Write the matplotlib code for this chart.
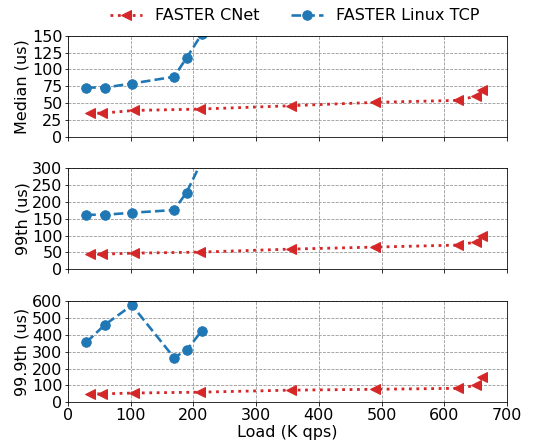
import matplotlib
matplotlib.use('Agg')
import matplotlib.pyplot as plt

# load (K qps)
cnet_load = [35, 55, 105, 210, 355, 490, 622, 650, 660]
tcp_load = [29, 59, 102, 169, 189, 213]

# latencies (us)
cnet_median = [35, 35, 39, 41, 46, 51, 54, 60, 70]
tcp_median = [73, 73, 79, 89, 117, 152]
cnet_p99 = [45, 45, 48, 51, 60, 66, 72, 81, 100]
tcp_p99 = [162, 162, 168, 176, 228, 320]
cnet_p999 = [50, 50, 55, 60, 72, 77, 83, 100, 150]
tcp_p999 = [355, 460, 575, 265, 308, 422]

ylabels = ['Median (us)', '99th (us)', '99.9th (us)']
ylims = [150, 300, 600]
ysteps = [25, 50, 100]

plt.rcParams['font.size'] = 16

fig = plt.figure(figsize=(558 / 72, 446 / 72), dpi=72)
left = 68 / 558
width = (507 - 68) / 558
boxes = [(35.7, 136.7), (168.3, 269.3), (301, 402.3)]

cnet = [cnet_median, cnet_p99, cnet_p999]
tcp = [tcp_median, tcp_p99, tcp_p999]

axes = []
for i in range(3):
    top, bot = boxes[i]
    ax = fig.add_axes([left, 1 - bot / 446, width, (bot - top) / 446])
    ax.plot(cnet_load, cnet[i], color='#d62728', linestyle=':', linewidth=2.8,
            marker='<', markersize=10, label='FASTER CNet')
    ax.plot(tcp_load, tcp[i], color='#1f77b4', linestyle='--', linewidth=2.6,
            marker='o', markersize=9.5, label='FASTER Linux TCP')
    ax.set_xlim(0, 700)
    ax.set_ylim(0, ylims[i])
    ax.set_yticks(range(0, ylims[i] + 1, ysteps[i]))
    ax.set_xticks(range(0, 701, 100))
    ax.grid(True, linestyle='--', color='grey', alpha=0.85)
    ax.set_axisbelow(True)
    ax.set_ylabel(ylabels[i], labelpad=2)
    ax.tick_params(pad=2)
    if i < 2:
        ax.set_xticklabels([])
    axes.append(ax)

axes[2].set_xlabel('Load (K qps)', labelpad=2)
handles, labels = axes[0].get_legend_handles_labels()
fig.legend(handles, labels, loc='upper center', ncol=2, frameon=False,
           bbox_to_anchor=(0.528, 1.014), handlelength=2, columnspacing=2)

fig.savefig('out.png', dpi=72)
